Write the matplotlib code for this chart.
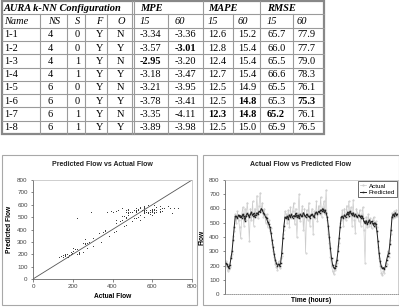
import matplotlib.pyplot as plt
import numpy as np
from matplotlib.patches import Rectangle

# table values
names = ['1-1', '1-2', '1-3', '1-4', '1-5', '1-6', '1-7', '1-8']
ns = [4, 4, 4, 4, 6, 6, 6, 6]
s = [0, 0, 1, 1, 0, 0, 1, 1]
f = ['Y', 'Y', 'Y', 'Y', 'Y', 'Y', 'Y', 'Y']
o = ['N', 'Y', 'N', 'Y', 'N', 'Y', 'N', 'Y']
mpe15 = [-3.34, -3.57, -2.95, -3.18, -3.21, -3.78, -3.35, -3.89]
mpe60 = [-3.36, -3.01, -3.20, -3.47, -3.95, -3.41, -4.11, -3.98]
mape15 = [12.6, 12.8, 12.4, 12.7, 12.5, 12.5, 12.3, 12.5]
mape60 = [15.2, 15.4, 15.4, 15.4, 14.9, 14.8, 14.8, 15.0]
rmse15 = [65.7, 66.0, 65.5, 66.6, 65.5, 65.3, 65.2, 65.9]
rmse60 = [77.9, 77.7, 79.0, 78.3, 76.1, 75.3, 76.1, 76.5]

# flow series (one value per time step)
predicted = [215, 210, 195, 180, 205, 250, 300, 380, 470, 545,
             545, 530, 555, 540, 550, 535, 560, 545, 515, 550, 565, 555, 540, 560, 575,
             550, 565, 540, 555, 570, 560, 580, 575, 600, 590,
             570, 560, 540, 530, 505, 490, 470, 430, 380, 330, 280, 240, 215, 200, 210, 195,
             220, 290, 390, 480, 540,
             530, 545, 525, 555, 540, 560, 535, 550, 545, 565, 540, 555, 530, 560, 550,
             545, 570, 555, 540, 560, 550, 545, 535, 555, 560, 550, 540, 565, 575, 560,
             580, 570, 590, 585, 600, 575, 590, 570, 540,
             480, 400, 320, 250, 205, 185, 180,
             200, 240, 300, 390, 470, 540,
             545, 530, 555, 540, 560, 575, 550, 580, 565, 555, 570, 545, 560, 550, 540, 555,
             545, 535, 550, 530, 510, 495, 515, 490, 505, 520, 500, 510, 495, 480, 500, 490,
             440, 370, 290, 230, 195, 180, 185,
             175, 200, 240, 270, 290, 350, 450, 540,
             560, 545, 570, 555, 560]
actual = [230, 195, 160, 175, 190, 270, 280, 410, 440, 560,
          500, 580, 520, 470, 390, 560, 610, 480, 600, 520, 640, 560, 370, 600, 520,
          650, 480, 600, 560, 690, 530, 620, 710, 580, 640,
          540, 600, 500, 560, 470, 520, 440, 460, 350, 300, 260, 210, 190, 170, 230, 180,
          250, 270, 420, 450, 580,
          560, 500, 590, 470, 610, 530, 580, 640, 490, 600, 400, 570, 700, 510, 560,
          620, 450, 600, 290, 590, 520, 640, 480, 560, 600, 420, 580, 530, 650, 510,
          620, 560, 680, 540, 610, 650, 560, 730, 520,
          420, 360, 260, 200, 160, 140, 170,
          230, 220, 340, 360, 500, 520,
          590, 480, 600, 520, 620, 540, 650, 560, 610, 480, 660, 520, 430, 600, 570, 510,
          590, 480, 560, 610, 450, 220, 540, 470, 560, 480, 530, 460, 520, 540, 470, 510,
          470, 330, 250, 200, 150, 130, 160,
          150, 220, 210, 300, 260, 380, 420, 570,
          530, 580, 540, 590, 550]

fig = plt.figure(figsize=(3.99, 3.08), dpi=100)

# ---- table drawn in pixel space ----
tab = fig.add_axes([0, 0, 1, 1])
tab.set_xlim(0, 399)
tab.set_ylim(308, 0)
tab.axis('off')

top, rh = 1.0, 13.3
bot = top + rh * 10
lc = '#9a9a9a'
for k in range(1, 10):
    tab.plot([1.5, 324], [top + rh * k] * 2, color=lc, lw=0.8)
for xv in [131.5, 134, 203, 260]:
    tab.plot([xv, xv], [top, bot], color=lc, lw=0.8)
for xv in [40, 67, 85, 107, 168, 233, 293]:
    tab.plot([xv, xv], [top + rh, bot], color=lc, lw=0.8)
tab.add_patch(Rectangle((1.5, top), 322.5, bot - top, fill=False, ec='#888888', lw=1.6))

serif = 'Liberation Serif'
cx = [4, 48, 75, 96, 117, 140, 175, 208, 238, 267, 297]

def cell(x, r, txt, **kw):
    tab.text(x, top + rh * r + rh / 2 + 0.5, txt, family=serif, fontsize=7.5,
             va='center', ha='left', **kw)

for x, t in zip([cx[0], cx[5], cx[7], cx[9]], ['AURA k-NN Configuration', 'MPE', 'MAPE', 'RMSE']):
    cell(x, 0, t, style='italic', weight='bold')
for x, t in zip(cx, ['Name', 'NS', 'S', 'F', 'O', '15', '60', '15', '60', '15', '60']):
    cell(x, 1, t, style='italic')

cols = [mpe15, mpe60, mape15, mape60, rmse15, rmse60]
best = [max(mpe15), max(mpe60), min(mape15), min(mape60), min(rmse15), min(rmse60)]
fmts = ['%.2f', '%.2f', '%.1f', '%.1f', '%.1f', '%.1f']
for i in range(len(names)):
    for x, t in zip(cx[:5], [names[i], ns[i], s[i], f[i], o[i]]):
        cell(x, i + 2, str(t))
    for j, col in enumerate(cols):
        cell(cx[5 + j], i + 2, fmts[j] % col[i],
             weight='bold' if col[i] == best[j] else 'normal')

# chart panels
tab.add_patch(Rectangle((1.5, 155), 195.5, 150, fill=False, ec='#a8a8a8', lw=0.8))
tab.add_patch(Rectangle((203, 155), 195.5, 150, fill=False, ec='#a8a8a8', lw=0.8))

sans = 'Liberation Sans'
tick_kw = dict(labelsize=4.5, length=1.8, width=0.5, color='#555555',
               labelcolor='#444444', pad=2)

def style_axes(ax):
    for sp in ['top', 'right']:
        ax.spines[sp].set_color('#bbbbbb')
        ax.spines[sp].set_linewidth(0.5)
    for sp in ['left', 'bottom']:
        ax.spines[sp].set_color('#666666')
        ax.spines[sp].set_linewidth(0.6)
    ax.tick_params(**tick_kw)
    for lab in ax.get_xticklabels() + ax.get_yticklabels():
        lab.set_family(sans)

# ---- scatter: predicted vs actual ----
ax1 = fig.add_axes([33 / 399, 29 / 308, 159 / 399, 99 / 308])
ax1.scatter(actual, predicted, s=0.5, c='#333333', marker='o', linewidths=0)
lims = [0, 800]
ax1.plot(lims, lims, color='#555555', lw=0.6)
ax1.set_xlim(lims)
ax1.set_ylim(lims)
ax1.set_xticks(range(0, 801, 200))
ax1.set_yticks(range(0, 801, 100))
style_axes(ax1)
ax1.set_xlabel('Actual Flow', family=sans, fontsize=4.8, weight='bold', labelpad=3)
ax1.set_ylabel('Predicted Flow', family=sans, fontsize=4.8, weight='bold', labelpad=3)
fig.text(102.5 / 399, 1 - 164 / 308, 'Predicted Flow vs Actual Flow', family=sans,
         fontsize=5, weight='bold', ha='center', va='center', color='#222222')

# ---- time series ----
ax2 = fig.add_axes([225 / 399, 14 / 308, 173 / 399, 114 / 308])
t = np.arange(len(predicted))
ax2.plot(t, actual, color='#cccccc', lw=0.5, marker='.', ms=1.0, label='Actual')
ax2.plot(t, predicted, color='#222222', lw=0.7, marker='s', ms=1.1, mew=0, label='Predicted')
ax2.set_xlim(-0.5, len(t) - 0.5)
ax2.set_ylim(0, 800)
ax2.set_yticks(range(0, 801, 100))
ax2.set_xticks([])
style_axes(ax2)
ax2.spines['bottom'].set_linestyle((0, (1, 1.5)))
ax2.spines['bottom'].set_color('#888888')
ax2.set_xlabel('Time (hours)', family=sans, fontsize=4.8, weight='bold', labelpad=2)
ax2.set_ylabel('Flow', family=sans, fontsize=4.8, weight='bold', labelpad=3)
leg = ax2.legend(loc='upper right', prop={'family': sans, 'size': 4.5}, frameon=True,
                 fancybox=False, edgecolor='#333333', framealpha=1, handlelength=1,
                 borderpad=0.3, labelspacing=0.2, handletextpad=0.4, borderaxespad=0.2)
leg.get_frame().set_linewidth(0.5)
fig.text(301 / 399, 1 - 164 / 308, 'Actual Flow vs Predicted Flow', family=sans,
         fontsize=5, weight='bold', ha='center', va='center', color='#222222')

fig.savefig('out.png', dpi=100)
